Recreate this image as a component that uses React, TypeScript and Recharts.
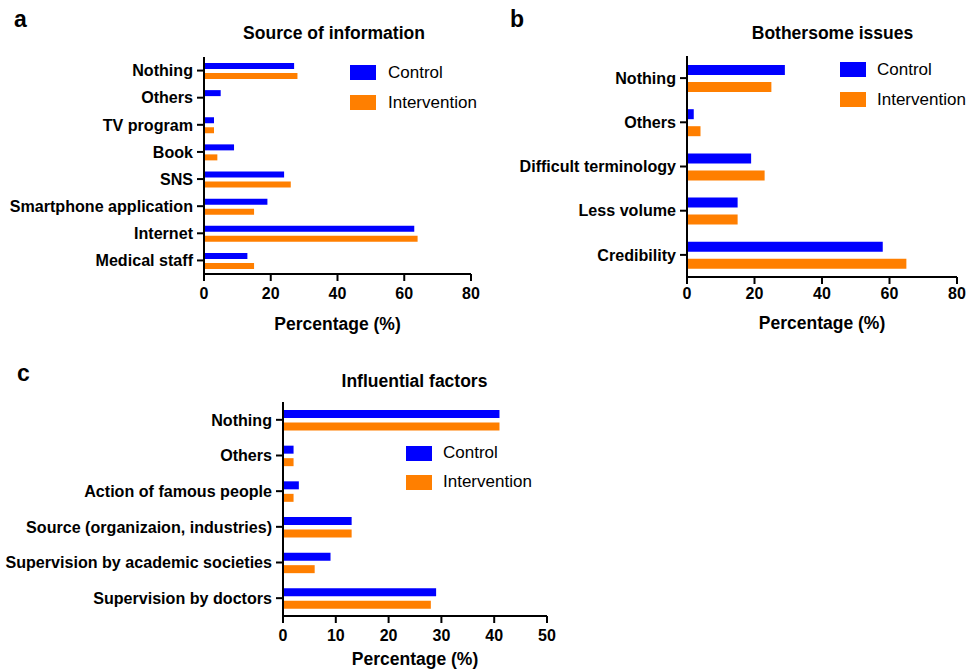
import React from 'react';
import { BarChart, Bar, XAxis, YAxis, Legend, Label } from 'recharts';

const FONT = '"Liberation Sans", Arial, Helvetica, sans-serif';
const BLUE = '#0000ff';
const ORANGE = '#ff7f00';

const seriesNames = ['Control', 'Intervention'];

const sourceCategories = ['Nothing', 'Others', 'TV program', 'Book', 'SNS', 'Smartphone application', 'Internet', 'Medical staff'];
const sourceControl = [27, 5, 3, 9, 24, 19, 63, 13];
const sourceIntervention = [28, 0, 3, 4, 26, 15, 64, 15];

const issueCategories = ['Nothing', 'Others', 'Difficult terminology', 'Less volume', 'Credibility'];
const issueControl = [29, 2, 19, 15, 58];
const issueIntervention = [25, 4, 23, 15, 65];

const factorCategories = ['Nothing', 'Others', 'Action of famous people', 'Source (organizaion, industries)', 'Supervision by academic societies', 'Supervision by doctors'];
const factorControl = [41, 2, 3, 13, 9, 29];
const factorIntervention = [41, 2, 2, 13, 6, 28];

const ticks80 = [0, 20, 40, 60, 80];
const ticks50 = [0, 10, 20, 30, 40, 50];

const axisTitle = 'Percentage (%)';

function buildRows(cats: string[], a: number[], b: number[]) {
  return cats.map((name, i) => ({ name, control: a[i], intervention: b[i] }));
}

type PanelProps = {
  cats: string[];
  control: number[];
  intervention: number[];
  ticks: number[];
  left: number;
  top: number;
  width: number;
  height: number;
  yAxisWidth: number;
  margin: { top: number; right: number; bottom: number; left: number };
  xAxisHeight: number;
  labelOffset: number;
  tickMargin: number;
  barSize: number;
  barGap: number;
  legendLeft: number;
  legendTop: number;
  legendRow: number;
  legendGap: number;
};

const xTickStyle = { fontSize: 16, fontWeight: 700, fill: '#000', fontFamily: FONT };
const yTickStyle = { fontSize: 16.1, fontWeight: 700, fill: '#000', fontFamily: FONT };

function makeLegend(rowH: number, gap: number) {
  return (props: any) => {
    const payload = props.payload || [];
    return (
      <div style={{ fontFamily: FONT }}>
        {payload.map((p: any, i: number) => (
          <div key={i} style={{ height: rowH, display: 'flex', alignItems: 'center', whiteSpace: 'nowrap' }}>
            <span style={{ display: 'inline-block', width: 26, height: 15, background: p.color, marginRight: gap }} />
            <span style={{ fontSize: 17, color: '#000' }}>{p.value}</span>
          </div>
        ))}
      </div>
    );
  };
}

function Panel(p: PanelProps) {
  const data = buildRows(p.cats, p.control, p.intervention);
  const max = p.ticks[p.ticks.length - 1];
  return (
    <div style={{ position: 'absolute', left: p.left, top: p.top }}>
      <BarChart
        width={p.width}
        height={p.height}
        data={data}
        layout="vertical"
        margin={p.margin}
        barSize={p.barSize}
        barGap={p.barGap}
      >
        <XAxis
          type="number"
          domain={[0, max]}
          ticks={p.ticks}
          interval={0}
          height={p.xAxisHeight}
          axisLine={{ stroke: '#000', strokeWidth: 2 }}
          tickLine={{ stroke: '#000', strokeWidth: 2 }}
          tickSize={7}
          tickMargin={p.tickMargin}
          tick={xTickStyle}
        >
          <Label
            value={axisTitle}
            position="bottom"
            offset={p.labelOffset}
            style={{ fontSize: 17.5, fontWeight: 700, fill: '#000', fontFamily: FONT }}
          />
        </XAxis>
        <YAxis
          type="category"
          dataKey="name"
          width={p.yAxisWidth}
          interval={0}
          axisLine={{ stroke: '#000', strokeWidth: 2 }}
          tickLine={{ stroke: '#000', strokeWidth: 2 }}
          tickSize={7}
          tickMargin={4}
          tick={yTickStyle}
        />
        <Legend
          layout="horizontal"
          verticalAlign="middle"
          align="center"
          wrapperStyle={{ left: p.legendLeft, top: p.legendTop, width: 'auto' }}
          content={makeLegend(p.legendRow, p.legendGap)}
        />
        <Bar dataKey="control" name={seriesNames[0]} fill={BLUE} isAnimationActive={false} />
        <Bar dataKey="intervention" name={seriesNames[1]} fill={ORANGE} isAnimationActive={false} />
      </BarChart>
    </div>
  );
}

const titleStyle = { fontSize: 17.5, fontWeight: 700, fill: '#000', fontFamily: FONT } as const;
const letterStyle = { fontSize: 23, fontWeight: 700, fill: '#000', fontFamily: FONT } as const;

export default function App() {
  return (
    <div style={{ position: 'absolute', left: 0, top: 0, width: 968, height: 670, background: '#fff', overflow: 'hidden' }}>
      <Panel
        cats={sourceCategories}
        control={sourceControl}
        intervention={sourceIntervention}
        ticks={ticks80}
        left={0}
        top={0}
        width={490}
        height={340}
        yAxisWidth={204}
        margin={{ top: 57, right: 19, bottom: 26, left: 0 }}
        xAxisHeight={40}
        labelOffset={3.6}
        tickMargin={7}
        barSize={6}
        barGap={4}
        legendLeft={350}
        legendTop={57.5}
        legendRow={30}
        legendGap={12}
      />
      <Panel
        cats={issueCategories}
        control={issueControl}
        intervention={issueIntervention}
        ticks={ticks80}
        left={490}
        top={0}
        width={478}
        height={340}
        yAxisWidth={197}
        margin={{ top: 56, right: 11, bottom: 23, left: 0 }}
        xAxisHeight={40}
        labelOffset={0}
        tickMargin={4}
        barSize={10}
        barGap={7}
        legendLeft={350}
        legendTop={54.5}
        legendRow={30}
        legendGap={11}
      />
      <Panel
        cats={factorCategories}
        control={factorControl}
        intervention={factorIntervention}
        ticks={ticks50}
        left={0}
        top={350}
        width={600}
        height={330}
        yAxisWidth={283}
        margin={{ top: 52, right: 53, bottom: 28, left: 0 }}
        xAxisHeight={36}
        labelOffset={0.6}
        tickMargin={7}
        barSize={8}
        barGap={4.5}
        legendLeft={406}
        legendTop={88.5}
        legendRow={29}
        legendGap={11}
      />
      <svg width={968} height={670} style={{ position: 'absolute', left: 0, top: 0, pointerEvents: 'none' }}>
        <text x={14} y={27} style={letterStyle}>a</text>
        <text x={510} y={27} style={letterStyle}>b</text>
        <text x={17} y={381} style={letterStyle}>c</text>
        <text x={334} y={39} textAnchor="middle" style={titleStyle}>Source of information</text>
        <text x={832.5} y={39} textAnchor="middle" style={titleStyle}>Bothersome issues</text>
        <text x={414.5} y={387} textAnchor="middle" style={titleStyle}>Influential factors</text>
      </svg>
    </div>
  );
}
